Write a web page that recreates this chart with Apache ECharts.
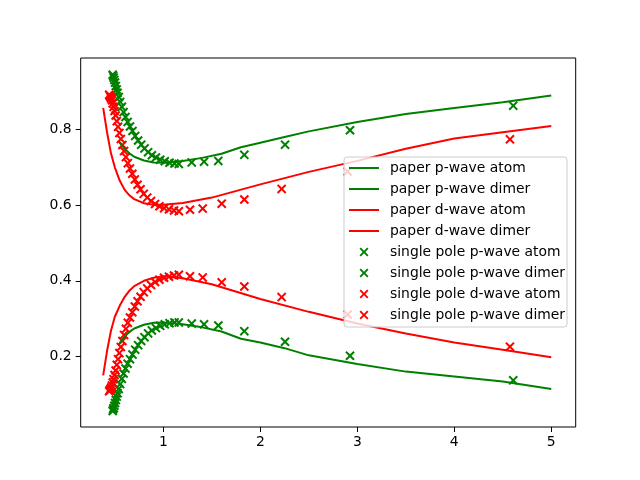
<!DOCTYPE html>
<html>
<head>
<meta charset="utf-8">
<script src="https://cdn.jsdelivr.net/npm/echarts@6/dist/echarts.min.js"></script>
<style>html,body{margin:0;padding:0;background:#fff}#c{width:640px;height:480px}</style>
</head>
<body>
<div id="c"></div>
<script>
// ---- data ----
const seriesKeys = ['pAtomLine', 'pDimerLine', 'dAtomLine', 'dDimerLine', 'pAtomPole', 'pDimerPole', 'dAtomPole', 'dDimerPole'];
const legendLabels = [
  'paper p-wave atom', 'paper p-wave dimer', 'paper d-wave atom', 'paper d-wave dimer',
  'single pole p-wave atom', 'single pole p-wave dimer', 'single pole d-wave atom', 'single pole p-wave dimer'
];
const xTicks = [1, 2, 3, 4, 5];
const yTicks = [0.2, 0.4, 0.6, 0.8];

const lineXGreen = [0.55, 0.6, 0.65, 0.7, 0.8, 0.9, 1.0, 1.1, 1.2, 1.4, 1.6, 1.8, 2.0, 2.25, 2.5, 3.0, 3.5, 4.0, 4.5, 5.0];
const paperPAtom = [0.765, 0.749, 0.737, 0.728, 0.718, 0.713, 0.712, 0.714, 0.717, 0.725, 0.736, 0.753, 0.765, 0.780, 0.795, 0.820, 0.841, 0.857, 0.872, 0.890];
const paperPDimer = [0.236, 0.252, 0.265, 0.274, 0.284, 0.289, 0.290, 0.288, 0.285, 0.277, 0.266, 0.247, 0.237, 0.222, 0.203, 0.180, 0.160, 0.147, 0.134, 0.114];

const lineXRed = [0.38, 0.42, 0.46, 0.5, 0.55, 0.6, 0.65, 0.7, 0.8, 0.9, 1.0, 1.2, 1.5, 2.0, 2.5, 3.0, 3.5, 4.0, 4.5, 5.0];
const paperDAtom = [0.857, 0.792, 0.737, 0.700, 0.665, 0.641, 0.626, 0.616, 0.605, 0.601, 0.601, 0.606, 0.620, 0.655, 0.688, 0.717, 0.749, 0.776, 0.793, 0.809];
const paperDDimer = [0.150, 0.215, 0.268, 0.305, 0.334, 0.357, 0.374, 0.386, 0.400, 0.408, 0.412, 0.407, 0.391, 0.352, 0.318, 0.287, 0.261, 0.237, 0.218, 0.198];

const poleXGreen = [0.478, 0.482, 0.488, 0.495, 0.502, 0.510, 0.519, 0.528, 0.540, 0.555, 0.572, 0.590, 0.610, 0.632, 0.656, 0.682, 0.710, 0.740, 0.772, 0.806, 0.843, 0.882, 0.924, 0.968, 1.015, 1.064, 1.115, 1.160, 1.293, 1.420, 1.567, 1.835, 2.255, 2.925, 4.608];
const polePAtom = [0.945, 0.942, 0.937, 0.931, 0.924, 0.915, 0.906, 0.897, 0.886, 0.873, 0.860, 0.846, 0.833, 0.820, 0.808, 0.796, 0.783, 0.771, 0.760, 0.750, 0.740, 0.732, 0.726, 0.720, 0.716, 0.712, 0.710, 0.709, 0.713, 0.715, 0.717, 0.733, 0.760, 0.798, 0.863];
const polePDimer = [0.056, 0.060, 0.064, 0.070, 0.077, 0.085, 0.094, 0.103, 0.114, 0.127, 0.141, 0.155, 0.168, 0.181, 0.193, 0.205, 0.218, 0.230, 0.241, 0.251, 0.261, 0.269, 0.275, 0.281, 0.285, 0.288, 0.290, 0.290, 0.287, 0.285, 0.282, 0.267, 0.239, 0.202, 0.137];

const poleXRed = [0.442, 0.448, 0.455, 0.462, 0.470, 0.478, 0.487, 0.497, 0.508, 0.520, 0.533, 0.547, 0.562, 0.578, 0.595, 0.614, 0.634, 0.656, 0.680, 0.706, 0.734, 0.765, 0.798, 0.834, 0.873, 0.915, 0.960, 1.008, 1.058, 1.110, 1.160, 1.275, 1.406, 1.602, 1.835, 2.220, 2.900, 4.574];
const poleDAtom = [0.892, 0.889, 0.886, 0.882, 0.877, 0.869, 0.860, 0.849, 0.837, 0.822, 0.807, 0.791, 0.775, 0.759, 0.743, 0.727, 0.711, 0.697, 0.683, 0.668, 0.654, 0.642, 0.630, 0.620, 0.611, 0.603, 0.597, 0.592, 0.589, 0.586, 0.584, 0.588, 0.591, 0.604, 0.615, 0.643, 0.689, 0.774];
const poleDDimer = [0.108, 0.111, 0.114, 0.118, 0.123, 0.131, 0.140, 0.151, 0.163, 0.178, 0.193, 0.209, 0.225, 0.241, 0.257, 0.273, 0.289, 0.303, 0.317, 0.332, 0.346, 0.358, 0.370, 0.380, 0.389, 0.397, 0.403, 0.408, 0.411, 0.414, 0.416, 0.412, 0.409, 0.396, 0.385, 0.357, 0.311, 0.226];

// ---- styling ----
const GREEN = '#008000', RED = '#ff0000';
const FONT = 'DejaVu Sans';
const X_MARK = 'path://M0,1.5 L1.5,0 L5,3.5 L8.5,0 L10,1.5 L6.5,5 L10,8.5 L8.5,10 L5,6.5 L1.5,10 L0,8.5 L3.5,5 Z';

const zip = (xs, ys) => xs.map((x, i) => [x, ys[i]]);

function lineSeries(name, xs, ys, color) {
  return { name, type: 'line', data: zip(xs, ys), showSymbol: false, symbol: 'none',
    lineStyle: { color, width: 2 }, itemStyle: { color }, z: 3, animation: false, silent: true };
}
function scatterSeries(name, xs, ys, color) {
  return { name, type: 'scatter', data: zip(xs, ys), symbol: X_MARK, symbolSize: 9.5,
    itemStyle: { color, opacity: 1 }, z: 2, animation: false, silent: true };
}

const labelByKey = {};
seriesKeys.forEach((k, i) => { labelByKey[k] = legendLabels[i]; });

const chart = echarts.init(document.getElementById('c'), null, { renderer: 'canvas' });
chart.setOption({
  animation: false,
  backgroundColor: '#fff',
  textStyle: { fontFamily: FONT },
  grid: { left: 80.7, top: 58, right: 64.3, bottom: 53, show: true, borderColor: '#000', borderWidth: 1, backgroundColor: 'transparent' },
  xAxis: {
    type: 'value', min: 0.148, max: 5.252,
    axisLine: { show: false }, splitLine: { show: false },
    axisTick: { show: true, length: 5, lineStyle: { color: '#000', width: 1 }, customValues: xTicks },
    axisLabel: { color: '#000', fontSize: 13.9, fontFamily: FONT, margin: 8, customValues: xTicks, formatter: v => String(v) }
  },
  yAxis: {
    type: 'value', min: 0.0136, max: 0.989,
    axisLine: { show: false }, splitLine: { show: false },
    axisTick: { show: true, length: 5, lineStyle: { color: '#000', width: 1 }, customValues: yTicks },
    axisLabel: { color: '#000', fontSize: 13.9, fontFamily: FONT, margin: 9, customValues: yTicks, formatter: v => v.toFixed(1) }
  },
  legend: {
    orient: 'vertical', left: 344, top: 157,
    padding: [3, 2, 4, 4],
    itemWidth: 30, itemHeight: 9, itemGap: 5,
    backgroundColor: 'rgba(255,255,255,0.8)', borderColor: '#cccccc', borderWidth: 1, borderRadius: 3,
    textStyle: { color: '#000', fontSize: 13.9, fontFamily: FONT, lineHeight: 16, padding: [0, 0, 0, 6] },
    formatter: name => labelByKey[name],
    data: seriesKeys.map((k, i) => i < 4
      ? { name: k, itemStyle: { color: 'rgba(0,0,0,0)', opacity: 0, borderWidth: 0 } }
      : { name: k }),
    selectedMode: false
  },
  series: [
    lineSeries(seriesKeys[0], lineXGreen, paperPAtom, GREEN),
    lineSeries(seriesKeys[1], lineXGreen, paperPDimer, GREEN),
    lineSeries(seriesKeys[2], lineXRed, paperDAtom, RED),
    lineSeries(seriesKeys[3], lineXRed, paperDDimer, RED),
    scatterSeries(seriesKeys[4], poleXGreen, polePAtom, GREEN),
    scatterSeries(seriesKeys[5], poleXGreen, polePDimer, GREEN),
    scatterSeries(seriesKeys[6], poleXRed, poleDAtom, RED),
    scatterSeries(seriesKeys[7], poleXRed, poleDDimer, RED)
  ]
});
</script>
</body>
</html>
